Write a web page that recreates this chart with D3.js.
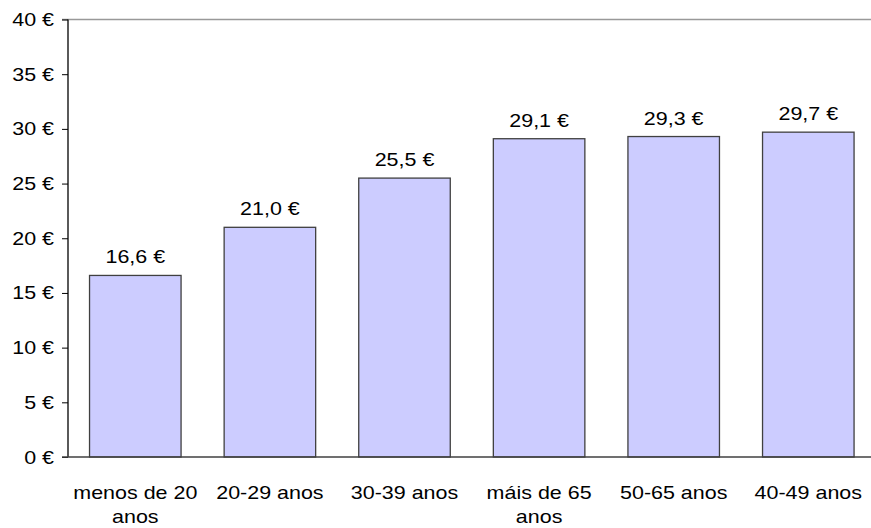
<!DOCTYPE html>
<html><head><meta charset="utf-8">
<script src="https://cdn.jsdelivr.net/npm/d3@7"></script>
<style>body{margin:0;background:#fff}svg{display:block}</style>
</head><body>
<svg id="c" width="871" height="528"></svg>
<script>
const categories = [["menos de 20","anos"],["20-29 anos"],["30-39 anos"],["máis de 65","anos"],["50-65 anos"],["40-49 anos"]];
const values = [16.6, 21.0, 25.5, 29.1, 29.3, 29.7];
const yTicks = [0,5,10,15,20,25,30,35,40];

const svg = d3.select("#c");
const font = "Liberation Sans, Arial, sans-serif";
const FS = 19, SX = 1.13;
const x = d3.scaleBand().domain(d3.range(values.length)).range([68, 875.6]).paddingInner(0.32).paddingOuter(0.16);
const y = d3.scaleLinear().domain([0,40]).range([457, 19.5]);

function label(px, py, txt, anchor){
  return svg.append("text").attr("transform",`translate(${px},${py}) scale(${SX},1)`)
    .attr("text-anchor",anchor).attr("font-family",font).attr("font-size",FS).attr("fill","#000").text(txt);
}

// top gray line
svg.append("line").attr("x1",62).attr("x2",871).attr("y1",y(40)).attr("y2",y(40))
  .attr("stroke","#999").attr("stroke-width",1.5);

const fmt = v => v.toFixed(1).replace(".", ",") + " €";

svg.selectAll("rect.bar").data(values).join("rect").attr("class","bar")
  .attr("x",(d,i)=>x(i)).attr("width",x.bandwidth())
  .attr("y",d=>y(d)).attr("height",d=>y(0)-y(d))
  .attr("fill","#CCCCFF").attr("stroke","#404040").attr("stroke-width",1.3);

values.forEach((v,i)=>label(x(i)+x.bandwidth()/2, y(v)-12, fmt(v), "middle"));

// y axis
const ya = svg.append("g").attr("transform","translate(68,0)")
  .call(d3.axisLeft(y).tickValues(yTicks).tickSize(6).tickFormat(""));
ya.select(".domain").attr("stroke","#000").attr("stroke-width",1.3).attr("d",`M0,${y(40)}V${y(0)}`);
ya.selectAll(".tick line").attr("stroke","#000");
yTicks.forEach(t=>label(54, y(t)+6.5, t+" €", "end"));

// baseline
svg.append("line").attr("x1",62).attr("x2",871).attr("y1",y(0)).attr("y2",y(0))
  .attr("stroke","#404040").attr("stroke-width",1.5);

// category labels
categories.forEach((lines,i)=>lines.forEach((ln,j)=>label(x(i)+x.bandwidth()/2, 499+j*23.5, ln, "middle")));
</script>
</body></html>
